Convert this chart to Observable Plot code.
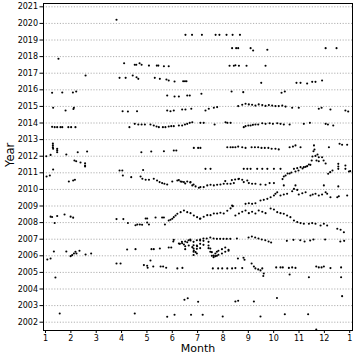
<!DOCTYPE html>
<html><head><meta charset="utf-8">
<script src="https://cdn.jsdelivr.net/npm/d3@7"></script>
<script src="https://cdn.jsdelivr.net/npm/@observablehq/plot@0.6"></script>
<style>body{margin:0;background:#fff}</style>
</head><body><div id="chart"></div>
<script>
const monthTicks = [1,2,3,4,5,6,7,8,9,10,11,12,13];
const monthLabels = ["1","2","3","4","5","6","7","8","9","10","11","12","1"];
const yearTicks = [2002,2003,2004,2005,2006,2007,2008,2009,2010,2011,2012,2013,2014,2015,2016,2017,2018,2019,2020,2021];

// [month, value]
const pts2020 = [[3.80,2020.22]];
const pts2019 = [[6.52,2019.31],[6.78,2019.31],[7.17,2019.31],[7.71,2019.31],[7.86,2019.31],[8.14,2019.31],[8.38,2019.31],[8.67,2019.31]];
const pts2018 = [[8.36,2018.51],[8.52,2018.51],[8.60,2018.51],[9.09,2018.51],[9.19,2018.37],[9.75,2018.41],[12.05,2018.51],[12.48,2018.51],[1.51,2017.87]];
const pts2017 = [[4.10,2017.60],[4.52,2017.51],[4.58,2017.51],[4.71,2017.60],[4.79,2017.51],[5.08,2017.46],[5.39,2017.46],[5.45,2017.46],[5.67,2017.42],[5.86,2017.42],
  [8.26,2017.45],[8.43,2017.45],[8.49,2017.48],[8.63,2017.45],[8.93,2017.45],[9.68,2017.45]];
const pts2016 = [[2.58,2016.86],[3.92,2016.72],[4.16,2016.72],[4.44,2016.86],[4.59,2016.76],[4.66,2016.66],[5.31,2016.72],[5.51,2016.66],[5.77,2016.62],[5.86,2016.56],[6.09,2016.50],[6.43,2016.52],[6.50,2016.52],[6.56,2016.52],
  [9.51,2016.42],[10.90,2016.42],[11.06,2016.42],[11.32,2016.38],[11.52,2016.48],[11.65,2016.48],[11.91,2016.56],
  [1.26,2015.82],[1.66,2015.84],[2.08,2015.84],[2.21,2015.90],[5.80,2015.66],[6.09,2015.60],[6.26,2015.60],[6.59,2015.66],[6.69,2015.66],[7.15,2015.76],[8.34,2015.90],[8.80,2015.86],[10.31,2015.82],[10.44,2015.90]];
const pts2015 = [[1.30,2014.92],[1.79,2014.75],[2.12,2014.92],[2.10,2014.84],[4.04,2014.71],[4.25,2014.69],[4.61,2014.71],[5.80,2014.75],[5.93,2014.71],[6.06,2014.75],[6.39,2014.81],[6.52,2014.81],[6.75,2014.86],
  [7.31,2014.75],[7.44,2014.86],[7.64,2014.92],[7.77,2014.96],[8.60,2015.02],[8.76,2015.10],[8.89,2015.16],[9.02,2015.12],[9.15,2015.10],[9.28,2015.05],[9.41,2015.12],[9.55,2015.08],[9.68,2015.03],[9.81,2015.08],[9.94,2015.05],[10.07,2015.02],[10.20,2015.02],[10.34,2015.05],[10.47,2014.99],[10.73,2014.92],[10.99,2014.92],[11.78,2014.86],[11.89,2014.92],[12.24,2014.81],[12.83,2014.75],[12.94,2014.69]];
const pts2014 = [[1.26,2013.77],[1.36,2013.75],[1.46,2013.75],[1.59,2013.75],[1.66,2013.75],[1.90,2013.75],[2.01,2013.75],[2.18,2013.75],
  [4.31,2013.75],[4.52,2013.95],[4.66,2013.91],[4.79,2013.91],[4.92,2013.91],[5.14,2013.91],[5.27,2013.85],[5.38,2013.79],[5.47,2013.75],[5.63,2013.75],[5.73,2013.75],[5.86,2013.79],[5.96,2013.81],[6.06,2013.81],[6.26,2013.85],[6.39,2013.85],[6.50,2013.91],[6.59,2013.95],[6.69,2014.01],[6.79,2014.05],
  [7.11,2014.01],[7.24,2014.01],[7.67,2013.91],[8.10,2014.05],[8.17,2014.01],[8.30,2014.01],[8.82,2013.75],[8.89,2013.81],[9.00,2013.85],[9.09,2013.85],[9.18,2013.89],[9.28,2013.91],[9.39,2013.91],[9.55,2013.99],[9.68,2013.95],[9.84,2013.99],[9.97,2013.95],[10.14,2013.99],[10.27,2013.95],[10.40,2013.91],[10.63,2013.91],[11.19,2013.95],[11.43,2014.01],[12.05,2013.95],[12.14,2013.91],[12.35,2013.85]];
const pts2012 = [[1.03,2012.00],[1.20,2012.08],[1.29,2012.77],[1.29,2012.65],[1.29,2012.53],[1.30,2012.45],[1.46,2012.45],[1.46,2012.35],[1.46,2012.24],[1.82,2012.10],[2.27,2012.24],[2.64,2012.28],[4.78,2012.24],[5.17,2012.28],[5.67,2012.30],[6.06,2012.34],[6.16,2012.34],[6.85,2012.50],[7.02,2012.50],
  [7.11,2012.50],[8.17,2012.54],[8.30,2012.54],[8.39,2012.54],[8.49,2012.54],[8.60,2012.58],[8.76,2012.54],[8.89,2012.50],[9.13,2012.54],[9.26,2012.54],[9.39,2012.54],[9.52,2012.50],[9.65,2012.50],[9.79,2012.50],[9.92,2012.45],[10.07,2012.45],[10.20,2012.41],[10.63,2012.54],[10.76,2012.58],[10.86,2012.65],[11.06,2012.54],[12.18,2012.54],[12.60,2012.75],[12.70,2012.69],[12.90,2012.69]];
const pts2011 = [[11.50,2011.74],[11.53,2011.98],[11.57,2012.30],[11.59,2012.65],[11.61,2012.40],[11.65,2012.02],[11.69,2011.74],[11.73,2012.10],[11.78,2011.94],[11.78,2011.70],[11.91,2011.94],[11.97,2011.74],[12.05,2011.56],
  [12.55,2011.54],[12.55,2011.38],[12.55,2011.24],[12.83,2011.44],[12.83,2011.24],[12.23,2011.04],[12.32,2011.14],[13.02,2011.10],
  [10.40,2010.78],[10.47,2010.84],[10.55,2010.96],[10.63,2010.96],[10.70,2011.02],[10.80,2011.24],[10.86,2011.08],[10.93,2011.28],[10.98,2011.14],[11.06,2011.34],[11.14,2011.26],[11.19,2011.34],[11.26,2011.36],[11.32,2011.40],[11.39,2011.50],[11.45,2011.48],
  [1.30,2011.20],[3.92,2011.14],[4.03,2011.14],[4.85,2011.17],[7.31,2011.24],[7.51,2011.24],[8.82,2011.24],[8.96,2011.24],[9.09,2011.24],[9.35,2011.24],[9.55,2011.24],[9.75,2011.24],[10.01,2011.24],[10.27,2011.24],
  [2.14,2011.74],[2.21,2011.70],[2.38,2011.62],[2.56,2011.58],[2.56,2011.44],[2.56,2011.38]];
const pts2010 = [[1.04,2010.78],[1.17,2010.84],[1.92,2010.48],[2.09,2010.54],[2.16,2010.58],[4.05,2010.84],[4.38,2010.74],[4.75,2010.78],[4.82,2010.64],[4.95,2010.58],[5.08,2010.58],[5.27,2010.64],[5.40,2010.54],[5.50,2010.44],[5.60,2010.38],[5.69,2010.34],[5.80,2010.30],[6.00,2010.48],[6.20,2010.54],[6.33,2010.48],[6.46,2010.44],[6.59,2010.48],[6.72,2010.44],[6.79,2010.24],[6.92,2010.18],[7.05,2010.10],
  [7.11,2010.14],[7.24,2010.14],[7.38,2010.24],[7.51,2010.28],[7.64,2010.24],[7.77,2010.28],[7.90,2010.30],[8.03,2010.34],[8.17,2010.34],[8.30,2010.34],[8.43,2010.38],[8.63,2010.64],[8.76,2010.58],[8.82,2010.44],[8.96,2010.54],[9.02,2010.38],[9.15,2010.34],[9.28,2010.34],[9.48,2010.30],[9.68,2010.28],[9.84,2010.38],[10.01,2010.38],[10.40,2010.24],[10.86,2010.24],[11.98,2010.24],[12.55,2010.18],[12.15,2010.94],[12.97,2011.08],
  [6.26,2010.56],[6.38,2010.46],[6.51,2010.36],[6.71,2010.42],[6.84,2010.30],[8.09,2010.50],[8.35,2010.56],[8.48,2010.60],[8.61,2010.62],[10.35,2010.62]];
const pts2009 = [[8.36,2009.03],[8.89,2009.13],[9.02,2009.17],[9.15,2009.13],[9.28,2009.17],[9.48,2009.33],[9.61,2009.37],[9.75,2009.43],[9.88,2009.53],[10.01,2009.63],[10.07,2009.74],[10.14,2009.83],[10.27,2009.63],[10.40,2009.69],[10.53,2009.74],[10.73,2009.89],[10.80,2010.03],[10.93,2009.97],[10.99,2009.69],[11.13,2009.77],[11.26,2009.83],[11.45,2009.63],[11.54,2009.69],[11.65,2009.74],[11.78,2009.63],[11.91,2009.69],[12.05,2009.83],[12.11,2009.74],[12.24,2009.53],[12.51,2009.53],[12.57,2009.59],[12.90,2009.63]];
const pts2008 = [[1.20,2008.36],[1.26,2008.34],[1.36,2007.98],[1.46,2008.40],[1.75,2008.49],[1.99,2008.36],[2.09,2008.30],[3.80,2008.21],[4.07,2008.21],[4.25,2007.98],[4.55,2007.84],[4.62,2007.89],[4.72,2007.89],[4.81,2007.87],[4.95,2008.25],[5.01,2008.25],[5.01,2008.01],[5.08,2007.89],[5.34,2008.31],[5.60,2008.31],[5.67,2008.31],[5.71,2007.89],
  [5.86,2008.13],[5.93,2008.17],[6.00,2008.23],[6.06,2008.33],[6.13,2008.43],[6.20,2008.53],[6.33,2008.63],[6.46,2008.73],[6.59,2008.63],[6.72,2008.57],[6.85,2008.43],[6.98,2008.33],[7.09,2008.23],
  [7.11,2008.25],[7.24,2008.35],[7.38,2008.45],[7.51,2008.45],[7.64,2008.55],[7.77,2008.55],[7.90,2008.59],[8.03,2008.55],[8.17,2008.71],[8.30,2008.86],[8.39,2008.99],[8.49,2008.43],[8.63,2008.55],[8.76,2008.65],[8.89,2008.73],[9.02,2008.57],[9.15,2008.65],[9.28,2008.55],[9.41,2008.73],[9.55,2008.65],[9.68,2008.57],[9.88,2008.85],[10.01,2008.79],[10.14,2008.63],[10.27,2008.57],[10.40,2008.53],[10.53,2008.43],[10.66,2008.33],[10.80,2008.13],[10.93,2008.03],[11.06,2007.97],[11.19,2007.93],[11.39,2007.93],[11.52,2007.97],[11.65,2007.93],[11.85,2007.83],[11.98,2007.93],[12.11,2007.83],[12.51,2007.63],[12.64,2007.57],[12.77,2007.42]];
const pts2007 = [[6.04,2006.86],[6.06,2006.96],[4.22,2006.38],[4.55,2006.40],[5.18,2006.40],[5.27,2006.40],[5.51,2006.44],[5.86,2006.50],[5.96,2006.50],
  [6.26,2006.74],[6.38,2006.84],[6.51,2006.86],[6.64,2006.94],[6.71,2006.98],[6.84,2006.84],[6.97,2006.94],[7.10,2006.98],[7.23,2007.04],[7.36,2007.04],[7.50,2007.10],[7.63,2007.04],[7.76,2007.02],[7.89,2007.02],[8.02,2007.02],[8.15,2007.02],[8.29,2007.02],[8.55,2007.04],[9.01,2007.10],[9.14,2007.16],[9.27,2007.10],[9.40,2007.04],[9.53,2006.98],[9.67,2006.94],[9.80,2006.86],[9.90,2006.80],[10.52,2006.90],[10.78,2006.96],[11.05,2006.94],[11.22,2006.86],[11.44,2006.92],[11.57,2006.98],[12.03,2006.98],[12.63,2006.86],[12.78,2006.90]];
const pts2006 = [[6.51,2006.58],[6.51,2006.40],[6.84,2006.64],[6.84,2006.44],[6.84,2006.24],[6.84,2006.05],[6.97,2006.62],[6.97,2006.42],[6.97,2006.14],[7.10,2006.92],[7.10,2006.72],[7.10,2006.46],[7.23,2006.90],[7.23,2006.66],[7.43,2006.84],[7.43,2006.62],[7.43,2006.46],[7.50,2006.44],[7.50,2006.24],[7.56,2006.22],[7.56,2006.00],[7.63,2006.02],[7.63,2005.92],[7.70,2006.14],[7.70,2005.98],[7.76,2006.24],[7.76,2006.00],[7.82,2006.30],[7.82,2006.06],[7.96,2006.40],[7.96,2006.14],[8.09,2006.50],[8.09,2006.24],[8.22,2006.36],[8.22,2006.30],
  [6.30,2006.72],[6.39,2006.76],[6.46,2006.68],[6.59,2006.82],[6.65,2006.62],[6.72,2006.92],[6.79,2006.52],[6.85,2006.32],[6.92,2006.22],[6.98,2006.58],
  [1.07,2005.78],[1.20,2005.84],[1.33,2006.26],[1.82,2006.26],[1.99,2005.98],[2.05,2006.04],[2.12,2006.14],[2.18,2006.24],[2.22,2006.14],[2.34,2006.30],[2.58,2006.08],[2.80,2006.14],[8.59,2005.84],[8.81,2005.88],[8.85,2005.76]];
const pts2005 = [[3.80,2005.54],[3.96,2005.54],[4.88,2005.44],[5.01,2005.40],[5.03,2005.28],[5.14,2005.72],[5.25,2005.36],[5.54,2005.36],[5.64,2005.36],[5.76,2005.28],[6.20,2005.24],[6.40,2005.27],[7.60,2005.24],[7.81,2005.24],[7.97,2005.24],[8.17,2005.24],[8.36,2005.24],[8.49,2005.26],[8.76,2005.26],[9.13,2005.54],[9.22,2005.36],[9.28,2005.24],[9.39,2005.18],[9.48,2005.12],[9.55,2005.24],[9.61,2004.93],[9.59,2004.78],[10.10,2005.30],[10.27,2005.30],[10.36,2005.30],[10.60,2005.27],[10.73,2005.30],[10.86,2005.27],[10.63,2004.87],[11.39,2004.71],[11.68,2005.36],[11.78,2005.30],[11.89,2005.30],[11.98,2005.36],[12.24,2005.26],[12.66,2005.30],[12.66,2004.71],[1.39,2004.69]];
const pts2003 = [[6.48,2003.35],[6.61,2003.44],[7.02,2003.23],[8.49,2003.25],[8.60,2003.29],[9.22,2003.25],[10.13,2003.46],[12.70,2003.57]];
const pts2002 = [[1.56,2002.52],[4.52,2002.52],[5.80,2002.33],[6.09,2002.45],[6.74,2002.45],[7.20,2002.45],[7.99,2002.34],[9.48,2002.34],[10.44,2002.48],[11.36,2002.48],[11.68,2001.56]];

const data = [].concat(pts2020, pts2019, pts2018, pts2017, pts2016, pts2015, pts2014, pts2012, pts2011, pts2010, pts2009, pts2008, pts2007, pts2006, pts2005, pts2003, pts2002)
  .map(([month, value]) => ({month, value}));

const chart = Plot.plot({
  width: 357, height: 357,
  marginLeft: 43, marginRight: 5, marginTop: 3, marginBottom: 27,
  style: {fontFamily: "DejaVu Sans", fontSize: "8px", background: "white", color: "black"},
  x: {domain: [0.92, 13.11]},
  y: {domain: [2001.5, 2021.2]},
  marks: [
    Plot.gridY(yearTicks, {stroke: "#b0b0b0", strokeOpacity: 1, strokeDasharray: "1.2,1.6"}),
    Plot.dot(data, {x: "month", y: "value", r: 1.05, fill: "black"}),
    Plot.frame({stroke: "black"}),
    Plot.axisX(monthTicks, {tickFormat: d => monthLabels[monthTicks.indexOf(d)], tickSize: 3, tickPadding: 1.5, label: null}),
    Plot.axisY(yearTicks, {tickFormat: d => String(d), tickSize: 3.5, tickPadding: 2, label: null}),
    Plot.text(["Month"], {frameAnchor: "bottom", dy: 21, fontSize: 11}),
    Plot.text(["Year"], {frameAnchor: "left", rotate: -90, dx: -33, fontSize: 11.5})
  ]
});
document.getElementById("chart").appendChild(chart);
</script>
</body></html>
